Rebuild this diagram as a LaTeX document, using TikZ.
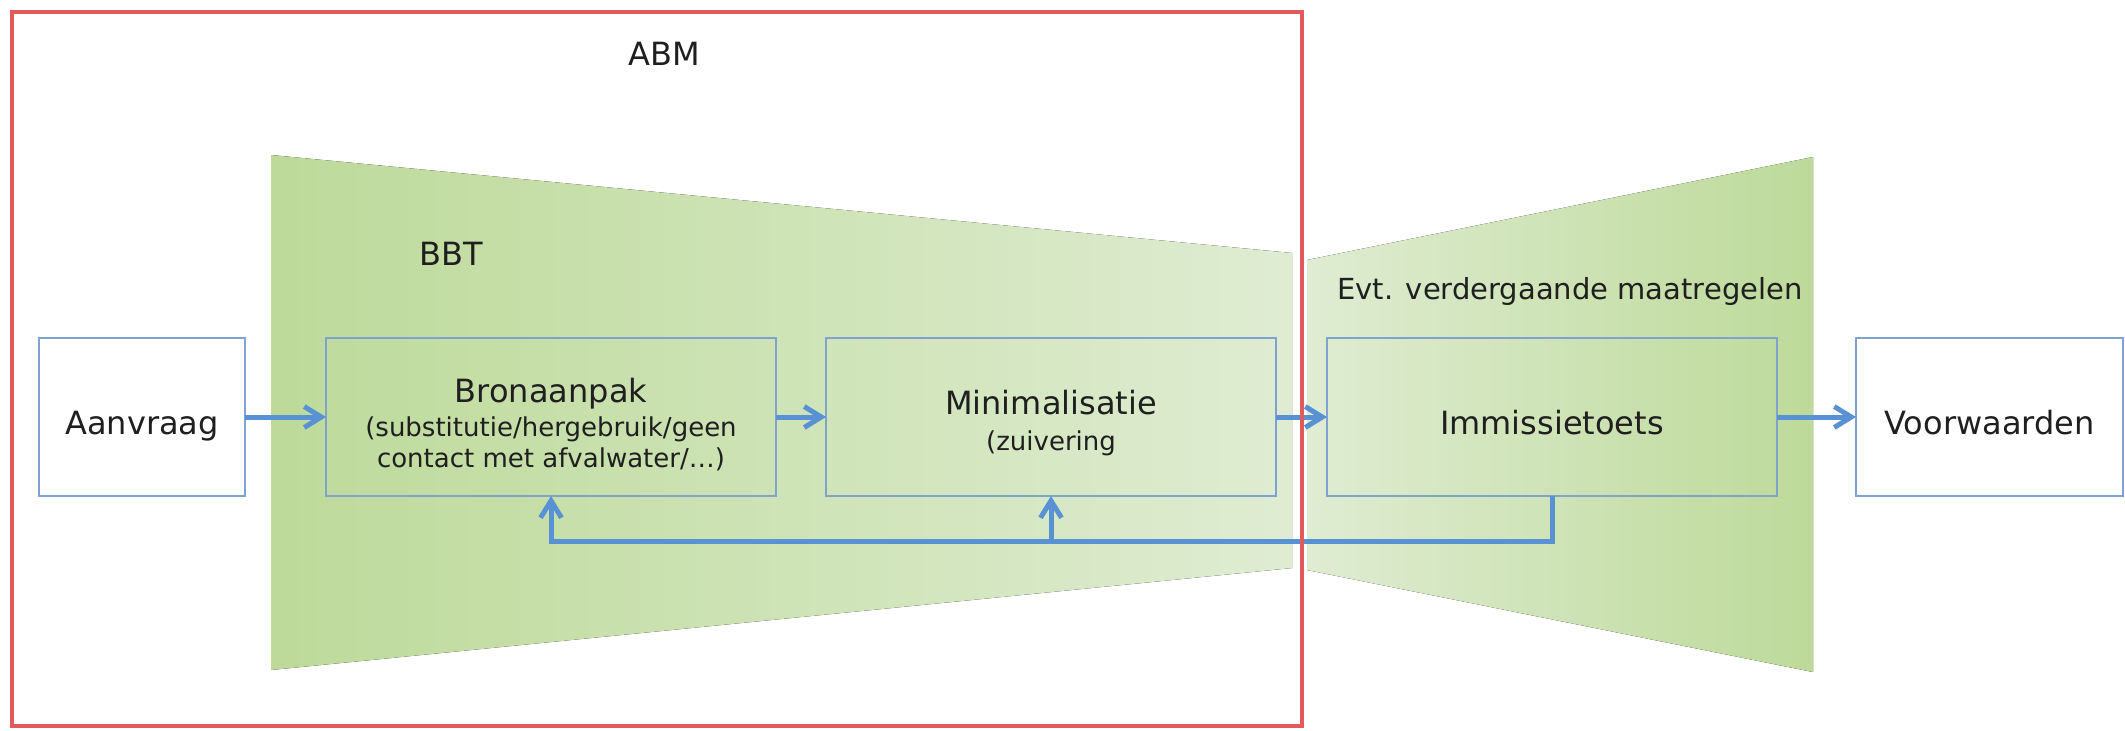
\documentclass[tikz,border=0pt]{standalone}
\usepackage{fontspec}
\setmainfont{DejaVu Sans}
\usetikzlibrary{positioning,arrows.meta}
\definecolor{abmred}{RGB}{226,90,92}
\definecolor{flowblue}{RGB}{88,146,212}
\definecolor{boxblue}{RGB}{128,162,206}
\definecolor{greendark}{RGB}{189,218,154}
\definecolor{greenlight}{RGB}{223,236,210}
\newcommand{\subsize}{\fontsize{13}{15.5}\selectfont}
\begin{document}
\begin{tikzpicture}[
    every node/.append style={text=black!88},
    stepbox/.style={draw=boxblue,line width=1pt,minimum height=79pt,inner sep=0pt,outer sep=0pt,align=center,font=\fontsize{16}{19}\selectfont},
    oneline/.style={text height=17pt,text depth=0pt},
    txt/.style={font=\fontsize{16}{19}\selectfont},
    flow/.style={draw=flowblue,line width=2.5pt,-{Straight Barb[length=8.5pt,width=10.5pt]}}
  ]
  \useasboundingbox (0,0) rectangle (1062.5pt,-365pt);

  \fill[left color=greendark,right color=greenlight] (135.5pt,-77.5pt) -- (646pt,-126.5pt) -- (646pt,-284pt) -- (135.5pt,-335pt) -- cycle;
  \fill[left color=greenlight,right color=greendark] (653.5pt,-130pt) -- (906.5pt,-78.5pt) -- (906.5pt,-336pt) -- (653.5pt,-285pt) -- cycle;

  \path (71pt,-208.5pt) node[stepbox,oneline,fill=white,minimum width=103pt] (aanvraag) {Aanvraag};
  \path node[stepbox,minimum width=225pt,right=40.5pt of aanvraag] (bron) {\rule{0pt}{19.5pt}Bronaanpak\\[-2pt]\subsize (substitutie/hergebruik/geen\\[-3.5pt]\subsize contact met afvalwater/…)};
  \path node[stepbox,minimum width=225pt,right=25pt of bron] (mini) {\rule{0pt}{18.5pt}Minimalisatie\\[-1pt]\subsize (zuivering};
  \path node[stepbox,oneline,minimum width=225pt,right=25.5pt of mini] (imm) {Immissietoets};
  \path node[stepbox,oneline,fill=white,minimum width=133.5pt,right=39.5pt of imm] (voor) {Voorwaarden};

  \path (332pt,-27pt) node[txt] (abm) {ABM};
  \path (225.5pt,-127pt) node[txt] (bbt) {BBT};
  \path (785pt,-145.5pt) node[font=\fontsize{14.5}{17}\selectfont] (evt) {Evt. verdergaande maatregelen};

  \draw[flow] (aanvraag) -- (bron);
  \draw[flow] (bron) -- (mini);
  \draw[flow] (mini) -- (imm);
  \draw[flow] (imm) -- (voor);
  \path (imm.south) ++(0,-22.5pt) coordinate (ret);
  \draw[flow] (imm.south) -- (ret) -| (bron.south);
  \draw[flow] (mini.south |- ret) -- (mini.south);

  \draw[abmred,line width=2pt] (6pt,-6pt) rectangle (651pt,-363pt);
\end{tikzpicture}
\end{document}
